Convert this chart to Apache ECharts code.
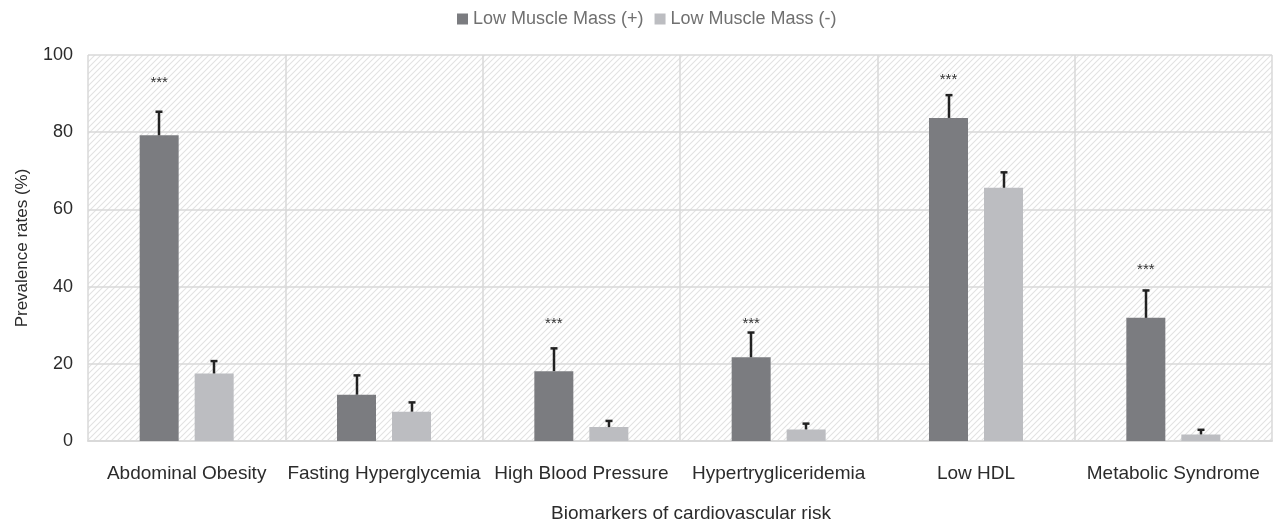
<!DOCTYPE html>
<html>
<head>
<meta charset="utf-8">
<script src="https://cdn.jsdelivr.net/npm/echarts@6/dist/echarts.min.js"></script>
<style>
html,body{margin:0;padding:0;background:#fff;}
#chart{width:1274px;height:524px;}
</style>
</head>
<body>
<div id="chart"></div>
<script>
var categories = ['Abdominal Obesity','Fasting Hyperglycemia','High Blood Pressure','Hypertrygliceridemia','Low HDL','Metabolic Syndrome'];
var seriesNames = ['Low Muscle Mass (+)','Low Muscle Mass (-)'];
var lowMassPos = [79.2, 12.0, 18.1, 21.7, 83.7, 31.9];
var lowMassPosErr = [85.3, 17.0, 24.0, 28.1, 89.6, 39.0];
var lowMassNeg = [17.5, 7.6, 3.6, 3.0, 65.6, 1.7];
var lowMassNegErr = [20.7, 10.0, 5.2, 4.5, 69.6, 2.9];
var sigMarks = ['***','','***','***','***','***'];
var sigLevel = [92.8, 0, 30.4, 30.4, 93.6, 44.4];
var yTicks = [0, 20, 40, 60, 80, 100];

var BAR_W = 39, BAR_GAP = 16;
var OFFSET = BAR_W / 2 + BAR_GAP / 2;
var FONT = 'Liberation Sans, Arial, sans-serif';

// hatch pattern
var tile = document.createElement('canvas');
var S = 6;
tile.width = S; tile.height = S;
var ctx = tile.getContext('2d');
ctx.fillStyle = '#ffffff';
ctx.fillRect(0, 0, S, S);
ctx.strokeStyle = '#e2e2e2';
ctx.lineWidth = 1.1;
ctx.beginPath();
ctx.moveTo(-1, S + 1); ctx.lineTo(S + 1, -1);
ctx.moveTo(-1, 1); ctx.lineTo(1, -1);
ctx.moveTo(S - 1, S + 1); ctx.lineTo(S + 1, S - 1);
ctx.stroke();

function errorData(high, low) {
  return high.map(function (h, i) { return [i, low[i], h]; });
}

function makeErr(sign) {
  return function (params, api) {
    var i = api.value(0);
    var top = api.coord([i, api.value(2)]);
    var base = api.coord([i, api.value(1)]);
    var x = Math.round(top[0] + sign * OFFSET);
    return {
      type: 'group',
      children: [
        { type: 'line', shape: { x1: x, y1: base[1], x2: x, y2: top[1] },
          style: { stroke: '#222222', lineWidth: 2.5 } },
        { type: 'line', shape: { x1: x - 3.5, y1: top[1], x2: x + 3.5, y2: top[1] },
          style: { stroke: '#222222', lineWidth: 2.5 } }
      ]
    };
  };
}

var chart = echarts.init(document.getElementById('chart'));
chart.setOption({
  animation: false,
  textStyle: { fontFamily: FONT },
  legend: {
    data: seriesNames,
    left: 452, top: 5,
    icon: 'rect', itemWidth: 11, itemHeight: 11, itemGap: 11,
    textStyle: { fontSize: 18, color: '#707070', fontFamily: FONT }
  },
  grid: {
    left: 88, right: 2, top: 55, bottom: 83,
    outerBoundsMode: 'none',
    containLabel: false,
    show: true, borderWidth: 0,
    backgroundColor: { image: tile, repeat: 'repeat' }
  },
  xAxis: {
    type: 'category',
    data: categories,
    axisLine: { lineStyle: { color: '#d9d9d9', width: 2 } },
    axisTick: { show: false },
    axisLabel: { interval: 0, fontSize: 19, color: '#2b2b2b', margin: 23 },
    splitLine: { show: true, interval: 0, lineStyle: { color: '#d9d9d9', width: 1.5 } },
    name: 'Biomarkers of cardiovascular risk',
    nameLocation: 'middle', nameGap: 63,
    nameTextStyle: { fontSize: 19, color: '#2b2b2b', padding: [0, 0, 0, 22] }
  },
  yAxis: {
    type: 'value', min: 0, max: 100, interval: 20,
    axisLine: { show: false },
    axisTick: { show: false },
    axisLabel: { fontSize: 18, color: '#2b2b2b', margin: 15,
      formatter: function (v) { return yTicks.indexOf(v) >= 0 ? String(v) : ''; } },
    splitLine: { lineStyle: { color: '#d9d9d9', width: 1.5 } },
    name: 'Prevalence rates (%)',
    nameLocation: 'middle', nameGap: 57, nameRotate: 90,
    nameTextStyle: { fontSize: 17, color: '#2b2b2b' }
  },
  series: [
    { name: seriesNames[0], type: 'bar', data: lowMassPos, barWidth: BAR_W,
      barGap: (BAR_GAP / BAR_W * 100) + '%', itemStyle: { color: '#7b7c80' } },
    { name: seriesNames[1], type: 'bar', data: lowMassNeg, barWidth: BAR_W,
      itemStyle: { color: '#bcbdc1' } },
    { type: 'custom', renderItem: makeErr(-1), data: errorData(lowMassPosErr, lowMassPos), z: 5 },
    { type: 'custom', renderItem: makeErr(1), data: errorData(lowMassNegErr, lowMassNeg), z: 5 },
    { type: 'custom', z: 6,
      data: sigLevel.map(function (v, i) { return [i, v]; }),
      renderItem: function (params, api) {
        var i = api.value(0);
        var mark = sigMarks[i];
        if (!mark) return null;
        var p = api.coord([i, api.value(1)]);
        return { type: 'text', x: p[0] - OFFSET, y: p[1],
          style: { text: mark, fontSize: 15, fill: '#333', align: 'center', verticalAlign: 'middle',
            fontFamily: FONT } };
      }
    }
  ]
});
</script>
</body>
</html>
